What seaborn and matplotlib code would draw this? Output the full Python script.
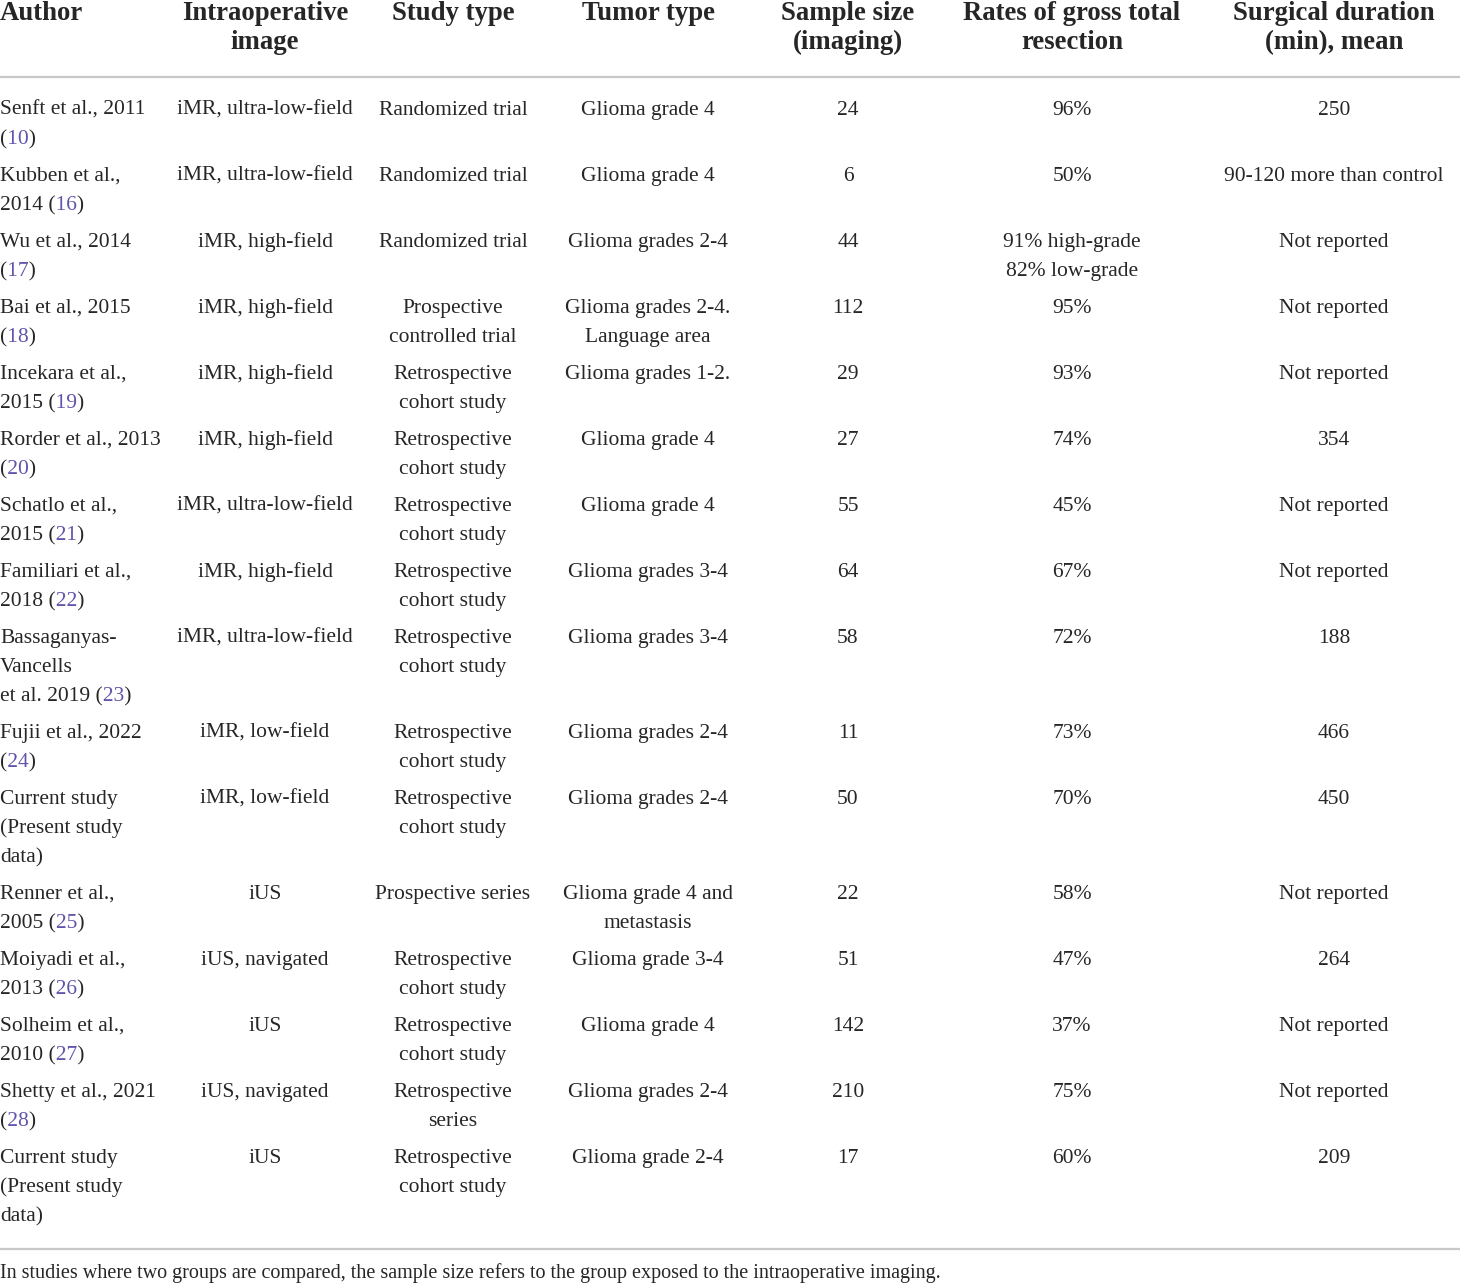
import matplotlib
matplotlib.use("Agg")
import matplotlib.pyplot as plt
from matplotlib.font_manager import FontProperties
from matplotlib.transforms import Bbox
import seaborn as sns

# table content, one list per column
headers = ["Author", "Intraoperative\nimage", "Study type", "Tumor type",
           "Sample size\n(imaging)", "Rates of gross total\nresection",
           "Surgical duration\n(min), mean"]

authors = ["Senft et al., 2011\n(", "Kubben et al.,\n2014 (", "Wu et al., 2014\n(",
           "Bai et al., 2015\n(", "Incekara et al.,\n2015 (", "Rorder et al., 2013\n(",
           "Schatlo et al.,\n2015 (", "Familiari et al.,\n2018 (",
           "Bassaganyas-\nVancells\net al. 2019 (", "Fujii et al., 2022\n(",
           "Current study\n(Present study\ndata)", "Renner et al.,\n2005 (",
           "Moiyadi et al.,\n2013 (", "Solheim et al.,\n2010 (", "Shetty et al., 2021\n(",
           "Current study\n(Present study\ndata)"]
refs = ["10", "16", "17", "18", "19", "20", "21", "22", "23", "24", None,
        "25", "26", "27", "28", None]

images = ["iMR, ultra-low-field", "iMR, ultra-low-field", "iMR, high-field",
          "iMR, high-field", "iMR, high-field", "iMR, high-field",
          "iMR, ultra-low-field", "iMR, high-field", "iMR, ultra-low-field",
          "iMR, low-field", "iMR, low-field", "iUS", "iUS, navigated", "iUS",
          "iUS, navigated", "iUS"]

retro = "Retrospective\ncohort study"
study_types = ["Randomized trial", "Randomized trial", "Randomized trial",
               "Prospective\ncontrolled trial", retro, retro, retro, retro, retro,
               retro, retro, "Prospective series", retro, retro,
               "Retrospective\nseries", retro]

tumor_types = ["Glioma grade 4", "Glioma grade 4", "Glioma grades 2-4",
               "Glioma grades 2-4.\nLanguage area", "Glioma grades 1-2.",
               "Glioma grade 4", "Glioma grade 4", "Glioma grades 3-4",
               "Glioma grades 3-4", "Glioma grades 2-4", "Glioma grades 2-4",
               "Glioma grade 4 and\nmetastasis", "Glioma grade 3-4",
               "Glioma grade 4", "Glioma grades 2-4", "Glioma grade 2-4"]

sample_sizes = ["24", "6", "44", "112", "29", "27", "55", "64", "58", "11", "50",
                "22", "51", "142", "210", "17"]

gtr_rates = ["96%", "50%", "91% high-grade\n82% low-grade", "95%", "93%", "74%",
             "45%", "67%", "72%", "73%", "70%", "58%", "47%", "37%", "75%", "60%"]

durations = ["250", "90-120 more than control", "Not reported", "Not reported",
             "Not reported", "354", "Not reported", "Not reported", "188", "466",
             "450", "Not reported", "264", "Not reported", "Not reported", "209"]

footnote = ("In studies where two groups are compared, the sample size refers to "
            "the group exposed to the intraoperative imaging.")

sns.set_theme(style="white")
plt.rcParams["font.family"] = ["Liberation Serif", "DejaVu Serif"]

text_color = "#262626"
ref_color = "#5f55ad"
rule_color = "#c8c8c8"
body_size = 15.5
head_size = 19.3
line_h = 29
H = 1283

fig = plt.figure(figsize=(14.6, 12.83), dpi=100)
ax = fig.add_axes([0, 0, 1, 1])
ax.set_xlim(0, 1460)
ax.set_ylim(H, 0)
ax.axis("off")
renderer = fig.canvas.get_renderer()
body_font = FontProperties(family=["Liberation Serif"], size=body_size)


def text_w(s):
    # width in pixels == data units here (1 unit per pixel)
    return renderer.get_text_width_height_descent(s, body_font, ismath=False)[0]


def clipped_text(x, y, s, color, x_lo, x_hi):
    t = ax.text(x, y, s, ha="left", va="baseline", fontsize=body_size, color=color)
    t.set_clip_path(None)
    # clip box in display pixels (y up)
    t.set_clip_box(Bbox.from_extents(x_lo, H - (y + 15), x_hi, H - (y - 30)))
    t.set_clip_on(True)


col_x = [0, 265, 453, 648, 848, 1072, 1334]

# header (baselines)
for i, h in enumerate(headers):
    for j, line in enumerate(h.split("\n")):
        ax.text(col_x[i], 20 + j * line_h, line, ha="left" if i == 0 else "center",
                va="baseline", fontsize=head_size, fontweight="bold", color=text_color)
ax.plot([0, 1460], [77, 77], color=rule_color, lw=1.6, solid_capstyle="butt")

columns = [images, study_types, tumor_types, sample_sizes, gtr_rates, durations]
y = 115
for r in range(len(authors)):
    cells = [authors[r]] + [c[r] for c in columns]
    n_lines = max(len(c.split("\n")) for c in cells)
    for i, cell in enumerate(cells):
        lines = cell.split("\n")
        for j, line in enumerate(lines):
            ly = y + j * line_h
            if i == 0 and j == len(lines) - 1 and refs[r] is not None:
                # whole line drawn as one string, ref number recoloured by clipping
                ref = refs[r]
                full = line + ref + ")"
                a = round((text_w(line) + text_w(line + ref) - text_w(ref)) / 2)
                b = round((text_w(line + ref) + text_w(full) - text_w(")")) / 2)
                clipped_text(0, ly, full, text_color, -5, a)
                clipped_text(0, ly, full, ref_color, a, b)
                clipped_text(0, ly, full, text_color, b, 400)
            else:
                ax.text(col_x[i], ly, line, ha="left" if i == 0 else "center",
                        va="baseline", fontsize=body_size, color=text_color)
    y += n_lines * line_h + 8

ax.plot([0, 1460], [1249, 1249], color=rule_color, lw=1.6, solid_capstyle="butt")
ax.text(0, 1278, footnote, ha="left", va="baseline", fontsize=14.5, color=text_color)

fig.savefig("out.png", dpi=100, facecolor="white")
